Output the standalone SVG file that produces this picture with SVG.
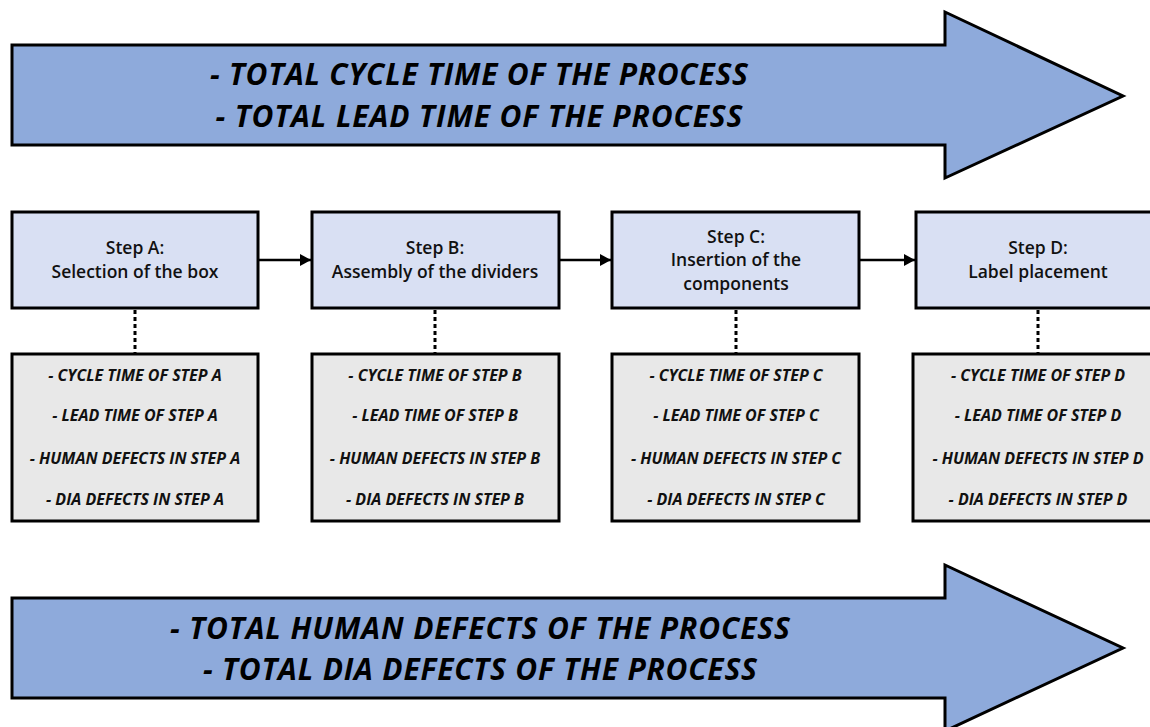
<svg xmlns="http://www.w3.org/2000/svg" width="1150" height="727" viewBox="0 0 1150 727">
  <defs>
    <style>
      .big { fill: #8eaadb; stroke: #000; stroke-width: 3; stroke-linejoin: miter; }
      .step { fill: #d9e0f3; stroke: #000; stroke-width: 3; }
      .detail { fill: #e8e8e8; stroke: #000; stroke-width: 3; }
      .bigtxt { font-family: "Open Sans", "Liberation Sans", sans-serif; font-weight: bold; font-style: italic; font-size: 30px; fill: #000; text-anchor: middle; }
      .steptxt { font-family: "Open Sans", "Liberation Sans", sans-serif; font-weight: 600; font-size: 17.5px; fill: #111; text-anchor: middle; }
      .dettxt { font-family: "Open Sans", "Liberation Sans", sans-serif; font-weight: bold; font-style: italic; font-size: 16px; fill: #111; text-anchor: middle; }
      .conn { stroke: #000; stroke-width: 2.5; fill: none; }
      .dot { stroke: #000; stroke-width: 3; stroke-dasharray: 4 3; fill: none; }
    </style>
    <marker id="ah" markerWidth="11" markerHeight="12" refX="11" refY="6" orient="auto" markerUnits="userSpaceOnUse" viewBox="0 0 11 12">
      <path d="M0,0 L11,6 L0,12 z" fill="#000"/>
    </marker>
  </defs>

  <g id="total-time-arrow">
    <polygon class="big" points="12,45 945,45 945,12 1123,96 945,178 945,145 12,145"/>
    <text class="bigtxt" x="479" y="85" textLength="538">- TOTAL CYCLE TIME OF THE PROCESS</text>
    <text class="bigtxt" x="479" y="127" textLength="527">- TOTAL LEAD TIME OF THE PROCESS</text>
  </g>

  <g id="total-defects-arrow">
    <polygon class="big" points="12,598 945,598 945,565 1123,648 945,731 945,698 12,698"/>
    <text class="bigtxt" x="480" y="639" textLength="620">- TOTAL HUMAN DEFECTS OF THE PROCESS</text>
    <text class="bigtxt" x="480" y="680" textLength="554">- TOTAL DIA DEFECTS OF THE PROCESS</text>
  </g>

  <g id="connectors">
    <line class="conn" x1="258" y1="260" x2="311" y2="260" marker-end="url(#ah)"/>
    <line class="conn" x1="559" y1="260" x2="611" y2="260" marker-end="url(#ah)"/>
    <line class="conn" x1="859" y1="260" x2="915" y2="260" marker-end="url(#ah)"/>
    <line class="dot" x1="135" y1="310" x2="135" y2="353"/>
    <line class="dot" x1="435" y1="310" x2="435" y2="353"/>
    <line class="dot" x1="736" y1="310" x2="736" y2="353"/>
    <line class="dot" x1="1038" y1="310" x2="1038" y2="353"/>
  </g>

  <g id="step-a">
    <rect class="step" x="12" y="212" width="246" height="96"/>
    <text class="steptxt" x="135" y="254">Step A:</text>
    <text class="steptxt" x="135" y="278">Selection of the box</text>
  </g>
  <g id="step-b">
    <rect class="step" x="312" y="212" width="247" height="96"/>
    <text class="steptxt" x="435" y="254">Step B:</text>
    <text class="steptxt" x="435" y="278">Assembly of the dividers</text>
  </g>
  <g id="step-c">
    <rect class="step" x="612" y="212" width="247" height="96"/>
    <text class="steptxt" x="736" y="243">Step C:</text>
    <text class="steptxt" x="736" y="266">Insertion of the</text>
    <text class="steptxt" x="736" y="290">components</text>
  </g>
  <g id="step-d">
    <rect class="step" x="916" y="212" width="250" height="96"/>
    <text class="steptxt" x="1038" y="254">Step D:</text>
    <text class="steptxt" x="1038" y="278">Label placement</text>
  </g>

  <g id="details-a">
    <rect class="detail" x="12" y="354" width="246" height="167"/>
    <text class="dettxt" x="135" y="381">- CYCLE TIME OF STEP A</text>
    <text class="dettxt" x="135" y="421">- LEAD TIME OF STEP A</text>
    <text class="dettxt" x="135" y="464">- HUMAN DEFECTS IN STEP A</text>
    <text class="dettxt" x="135" y="505">- DIA DEFECTS IN STEP A</text>
  </g>
  <g id="details-b">
    <rect class="detail" x="312" y="354" width="247" height="167"/>
    <text class="dettxt" x="435" y="381">- CYCLE TIME OF STEP B</text>
    <text class="dettxt" x="435" y="421">- LEAD TIME OF STEP B</text>
    <text class="dettxt" x="435" y="464">- HUMAN DEFECTS IN STEP B</text>
    <text class="dettxt" x="435" y="505">- DIA DEFECTS IN STEP B</text>
  </g>
  <g id="details-c">
    <rect class="detail" x="612" y="354" width="247" height="167"/>
    <text class="dettxt" x="736" y="381">- CYCLE TIME OF STEP C</text>
    <text class="dettxt" x="736" y="421">- LEAD TIME OF STEP C</text>
    <text class="dettxt" x="736" y="464">- HUMAN DEFECTS IN STEP C</text>
    <text class="dettxt" x="736" y="505">- DIA DEFECTS IN STEP C</text>
  </g>
  <g id="details-d">
    <rect class="detail" x="913" y="354" width="253" height="167"/>
    <text class="dettxt" x="1038" y="381">- CYCLE TIME OF STEP D</text>
    <text class="dettxt" x="1038" y="421">- LEAD TIME OF STEP D</text>
    <text class="dettxt" x="1038" y="464">- HUMAN DEFECTS IN STEP D</text>
    <text class="dettxt" x="1038" y="505">- DIA DEFECTS IN STEP D</text>
  </g>
</svg>
